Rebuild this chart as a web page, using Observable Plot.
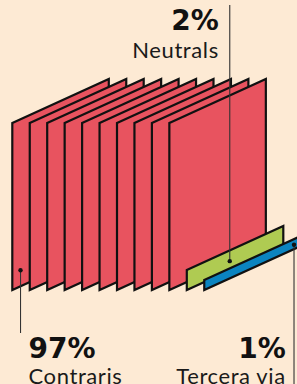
<!DOCTYPE html>
<html><head><meta charset="utf-8">
<script src="https://cdn.jsdelivr.net/npm/d3@7"></script>
<script src="https://cdn.jsdelivr.net/npm/@observablehq/plot@0.6"></script>
<style>
html,body{margin:0;padding:0;background:#FDEAD4;overflow:hidden;}
</style></head><body><div id="chart"></div>
<script>
// ---- data ----
const categories = ["Contraris", "Neutrals", "Tercera via"];
const values = [97, 2, 1];
const pctLabels = ["97%", "2%", "1%"];
const colors = ["#E8535F", "#AFCB52", "#0B84C0"];

// ---- layout (not data) ----
const W = 297, H = 384;
const slotPx = 17.45, unitPx = 10, originX = 12.3, groundY = 290;
const depth = 5.53;          // sheet depth, in slots
const rise = 4.4;            // units the sheet climbs across its depth
const maxSheetHeight = 16.7; // cap on a sheet's height, in units
const valuePerSheet = 10;
const anchorUV = [[0.08, 0.1], [0.44, 0.5], [0.925, 0.5]];
const labelSide = ["bottom", "top", "bottom"];
const labelAlign = ["start", "end", "end"];
const toUnitsY = (py) => (groundY - py) / unitPx;
const lineEnd = [toUnitsY(333), toUnitsY(5), toUnitsY(H)];
const gapPx = [8, 11, 8.3];

// ---- build sheets ----
const sheets = [];
const firstSlot = [];
let slot = 0;
categories.forEach((c, i) => {
  const n = Math.max(1, Math.round(values[i] / valuePerSheet));
  const h = Math.min(values[i], maxSheetHeight);
  firstSlot.push({slot, h});
  for (let k = 0; k < n; ++k, ++slot) {
    sheets.push({id: slot, x: slot, y1: 0, y2: h, color: colors[i]});
    sheets.push({id: slot, x: slot + depth, y1: rise, y2: rise + h, color: colors[i]});
  }
});

const annots = categories.map((c, i) => {
  const [u, v] = anchorUV[i];
  const {slot: s, h} = firstSlot[i];
  const ax = s + u * depth;
  const ay = u * rise + v * h;
  const sign = labelAlign[i] === "start" ? 1 : -1;
  return {
    name: c, pct: pctLabels[i], ax, ay, ly: lineEnd[i],
    lx: ax + sign * gapPx[i] / slotPx,
    side: labelSide[i], align: labelAlign[i]
  };
});

const rows = {top: {pct: toUnitsY(29), name: toUnitsY(57.5)}, bottom: {pct: toUnitsY(357.5), name: toUnitsY(383.5)}};
annots.forEach(a => { a.py = rows[a.side].pct; a.ny = rows[a.side].name; });

const pctFont = {fontFamily: "DejaVu Sans", fontWeight: "bold", fontSize: 28, fill: "#111", lineAnchor: "bottom"};
const nameFont = {fontFamily: "Lato", fontWeight: 400, fontSize: 22, fill: "#1a1a1a", lineAnchor: "bottom", className: "namelabel"};

const textMarks = [];
for (const align of ["start", "end"]) {
  const d = annots.filter(a => a.align === align);
  textMarks.push(Plot.text(d, {x: "lx", y: "py", text: "pct", textAnchor: align, ...pctFont}));
  textMarks.push(Plot.text(d, {x: "lx", y: "ny", text: "name", textAnchor: align, ...nameFont}));
}

const chart = Plot.plot({
  width: W, height: H, margin: 0,
  x: {domain: [-originX / slotPx, (W - originX) / slotPx], axis: null},
  y: {domain: [toUnitsY(H), toUnitsY(0)], axis: null},
  color: {type: "identity"},
  style: {background: "#FDEAD4", overflow: "hidden"},
  marks: [
    Plot.areaY(sheets, {x: "x", y1: "y1", y2: "y2", z: "id", fill: "color", stroke: "#111", strokeWidth: 2.2, strokeLinejoin: "miter", strokeMiterlimit: 10}),
    Plot.ruleX(annots, {x: "ax", y1: "ay", y2: "ly", stroke: "#333", strokeWidth: 1.1}),
    Plot.dot(annots, {x: "ax", y: "ay", r: 2.2, fill: "#111"}),
    ...textMarks
  ]
});
chart.querySelectorAll("g.namelabel, .namelabel").forEach(g => g.setAttribute("letter-spacing", "0.6"));
document.getElementById("chart").appendChild(chart);
</script></body></html>
